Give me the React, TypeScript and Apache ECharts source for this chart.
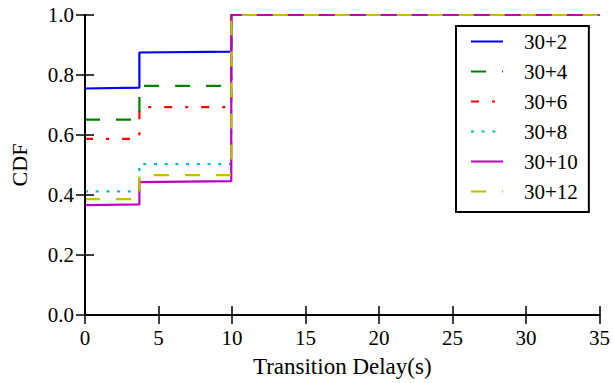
import React, { useEffect, useRef } from "react";
import * as echarts from "echarts";

const seriesNames = ["30+2", "30+4", "30+6", "30+8", "30+10", "30+12"];
const colors = ["#0000ff", "#008000", "#ff0000", "#00bfbf", "#bf00bf", "#bfbf00"];
// step positions (seconds)
const stepX = [0, 3.7, 9.95, 35];
// lower level (start, end), upper level (start, end)
const lowerStart = [0.755, 0.651, 0.587, 0.412, 0.366, 0.386];
const lowerEnd = [0.758, 0.651, 0.587, 0.412, 0.369, 0.386];
const upperStart = [0.875, 0.764, 0.693, 0.503, 0.443, 0.466];
const upperEnd = [0.878, 0.764, 0.693, 0.503, 0.446, 0.466];
const finalLevel = 1.0;
const dashTypes: any[] = ["solid", [15, 16], [8, 13, 3, 13], [3, 7.7], "solid", [15, 16]];

const xTicks = { min: 0, max: 35, interval: 5 };
const yTicks = { min: 0, max: 1, interval: 0.2 };

const FONT = "Liberation Serif";

export default function App() {
  const ref = useRef<HTMLDivElement>(null);
  useEffect(() => {
    if (!ref.current) return;
    const chart = echarts.init(ref.current, undefined, { renderer: "svg" });
    const series = seriesNames.map((name, i) => ({
      name,
      type: "line",
      xAxisIndex: 0,
      yAxisIndex: 0,
      z: 2,
      symbol: "none",
      showSymbol: false,
      lineStyle: { color: colors[i], width: 2.2, type: dashTypes[i] },
      itemStyle: { color: colors[i] },
      data: [
        [stepX[0], lowerStart[i]],
        [stepX[1], lowerEnd[i]],
        [stepX[1], upperStart[i]],
        [stepX[2], upperEnd[i]],
        [stepX[2], finalLevel],
        [stepX[3], finalLevel],
      ],
    }));
    const axisCommon = {
      type: "value",
      z: 5,
      axisLine: { show: true, lineStyle: { color: "#000", width: 2 } },
      axisTick: { show: true, inside: true, length: 9, lineStyle: { color: "#000", width: 1.5 } },
      splitLine: { show: false },
    };
    const labelStyle = { color: "#000", fontFamily: FONT, fontSize: 21 };
    chart.setOption({
      animation: false,
      backgroundColor: "#fff",
      grid: { left: 83.3, right: 10, top: 15, bottom: 63.7 },
      legend: {
        orient: "vertical",
        left: 456,
        top: 26,
        width: 137,
        padding: [5, 11, 10, 14],
        borderColor: "#000",
        borderWidth: 2,
        backgroundColor: "#fff",
        itemWidth: 32,
        itemHeight: 14,
        itemGap: 9,
        itemStyle: { color: "transparent", borderWidth: 0, opacity: 0 },
        textStyle: { color: "#000", fontFamily: FONT, fontSize: 21, padding: [0, 0, 0, 16] },
        data: seriesNames,
      },
      xAxis: [
        {
          ...axisCommon,
          ...xTicks,
          position: "bottom",
          axisLabel: { ...labelStyle, margin: 12 },
          name: "Transition Delay(s)",
          nameLocation: "middle",
          nameGap: 40,
          nameTextStyle: { color: "#000", fontFamily: FONT, fontSize: 23 },
        },
        { ...axisCommon, ...xTicks, position: "top", axisLabel: { show: false } },
      ],
      yAxis: [
        {
          ...axisCommon,
          ...yTicks,
          position: "left",
          axisLabel: { ...labelStyle, margin: 11, formatter: (v: number) => v.toFixed(1) },
          name: "CDF",
          nameLocation: "middle",
          nameGap: 55,
          nameTextStyle: { color: "#000", fontFamily: FONT, fontSize: 22 },
        },
        { ...axisCommon, ...yTicks, position: "right", axisLabel: { show: false } },
      ],
      series,
    });
    return () => chart.dispose();
  }, []);
  return (
    <div
      ref={ref}
      style={{ position: "fixed", left: 0, top: 0, width: 613, height: 383, background: "#fff" }}
    />
  );
}
